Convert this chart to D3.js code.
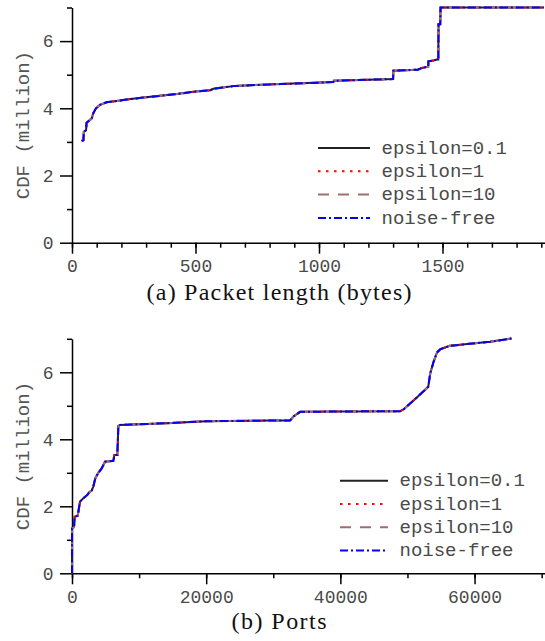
<!DOCTYPE html>
<html>
<head>
<meta charset="utf-8">
<script src="https://cdn.jsdelivr.net/npm/d3@7"></script>
<style>
  body { margin: 0; background: #fff; }
  svg { display: block; }
  .tick text { font-family: "Liberation Mono", monospace; fill: #4a4a4a; }
</style>
</head>
<body>
<svg id="chart" width="545" height="641"></svg>
<script>
// packet length CDF (bytes -> million packets)
const lenBytes = [39, 46, 48, 57, 59, 70, 80, 86, 97, 113, 140, 181, 221, 289, 356, 430, 500, 560, 572, 610, 653, 700, 842, 950, 1058, 1060, 1300, 1301, 1400, 1416, 1436, 1442, 1443, 1463, 1476, 1483, 1484, 1491, 1492, 1910]
const lenCdf   = [3.03, 3.05, 3.30, 3.35, 3.57, 3.64, 3.70, 3.85, 4.00, 4.10, 4.18, 4.22, 4.26, 4.32, 4.37, 4.43, 4.50, 4.54, 4.58, 4.62, 4.66, 4.68, 4.72, 4.75, 4.78, 4.82, 4.87, 5.12, 5.15, 5.20, 5.23, 5.23, 5.40, 5.42, 5.45, 5.45, 6.50, 6.50, 7.00, 7.00]

// port CDF (port number -> million packets)
const portNum = [0, 0, 298, 398, 845, 994, 1193, 1690, 2286, 2584, 2932, 3180, 3478, 3926, 4423, 4920, 6162, 6311, 6758, 6907, 7200, 14100, 20000, 29500, 32500, 33000, 34000, 39460, 48900, 49400, 50400, 51400, 52600, 53100, 53400, 53900, 54400, 54900, 56300, 59300, 62300, 65500]
const portCdf = [0, 1.34, 1.38, 1.69, 1.72, 1.89, 2.14, 2.24, 2.34, 2.42, 2.47, 2.59, 2.84, 3.00, 3.13, 3.33, 3.36, 3.53, 3.53, 4.40, 4.43, 4.48, 4.54, 4.56, 4.56, 4.68, 4.82, 4.83, 4.84, 4.89, 5.07, 5.25, 5.47, 5.57, 5.97, 6.32, 6.59, 6.69, 6.79, 6.85, 6.91, 7.01]

const seriesNames = ['epsilon=0.1', 'epsilon=1', 'epsilon=10', 'noise-free']
const seriesColors = ['#222222', '#ff0000', '#a06e6e', '#0000ff']
const seriesDash = [null, '2.5,5.5', '11,9', '8,3,2,3']

const lenMajor = [0, 500, 1000, 1500]
const portMajor = [0, 20000, 40000, 60000]
const yMajor = [0, 2, 4, 6]
const yMinor = [1, 3, 5, 7]

const captions = ['(a) Packet length (bytes)', '(b) Ports']

let svg = d3.select('#chart')

function drawPanel(opt) {
  let x = d3.scaleLinear().domain(opt.xDomain).range([72, 545])
  let y = d3.scaleLinear().domain([0, 7]).range(opt.yRange)
  let g = svg.append('g')

  // x axis: minor + major ticks
  g.append('g')
    .attr('transform', `translate(0,${y(0)})`)
    .call(d3.axisBottom(x).tickValues(opt.xMinor).tickSize(5).tickFormat(''))
    .call(a => a.select('.domain').remove())
    .call(a => a.selectAll('line').attr('stroke', '#000').attr('stroke-width', 1.5))
  g.append('g')
    .attr('transform', `translate(0,${y(0)})`)
    .call(d3.axisBottom(x).tickValues(opt.xMajor).tickSize(11).tickSizeOuter(0).tickPadding(5.5).tickFormat(d3.format('d')))
    .call(a => a.select('.domain').attr('stroke', '#000').attr('stroke-width', 1.5))
    .call(a => a.selectAll('line').attr('stroke', '#000').attr('stroke-width', 1.5))
    .call(a => a.selectAll('text').attr('font-size', 18))

  // y axis
  g.append('g')
    .attr('transform', 'translate(72,0)')
    .call(d3.axisLeft(y).tickValues(yMinor).tickSize(5).tickFormat(''))
    .call(a => a.select('.domain').remove())
    .call(a => a.selectAll('line').attr('stroke', '#000').attr('stroke-width', 1.5))
  g.append('g')
    .attr('transform', 'translate(72,0)')
    .call(d3.axisLeft(y).tickValues(yMajor).tickSize(12).tickSizeOuter(0).tickPadding(6.5).tickFormat(d3.format('d')))
    .call(a => a.select('.domain').attr('stroke', '#000').attr('stroke-width', 1.5))
    .call(a => a.selectAll('line').attr('stroke', '#000').attr('stroke-width', 1.5))
    .call(a => a.selectAll('text').attr('font-size', 18))

  g.append('text')
    .attr('transform', `translate(28.5,${(y(0) + y(7)) / 2}) rotate(-90)`)
    .attr('text-anchor', 'middle')
    .attr('font-family', '"Liberation Mono", monospace')
    .attr('font-size', 19)
    .attr('fill', '#555')
    .text('CDF (million)')

  // curves, blue (noise-free) on top
  let line = d3.line().x((d, i) => x(opt.xs[i])).y(d => y(d))
  seriesNames.forEach((s, i) => {
    g.append('path')
      .datum(opt.ys)
      .attr('d', line)
      .attr('fill', 'none')
      .attr('stroke', seriesColors[i])
      .attr('stroke-width', 2)
      .attr('stroke-dasharray', seriesDash[i])
      .attr('stroke-linejoin', 'miter')
  })

  // legend
  let leg = g.append('g')
  seriesNames.forEach((s, i) => {
    let ly = opt.legY + i * 23.3
    leg.append('line')
      .attr('x1', opt.legX).attr('x2', opt.legX + opt.legLen)
      .attr('y1', ly).attr('y2', ly)
      .attr('stroke', seriesColors[i])
      .attr('stroke-width', 2)
      .attr('stroke-dasharray', seriesDash[i])
    leg.append('text')
      .attr('x', opt.legX + opt.legLen + 11.5)
      .attr('y', ly)
      .attr('dy', '0.3em')
      .attr('font-family', '"Liberation Mono", monospace')
      .attr('font-size', 19)
      .attr('fill', '#4a4a4a')
      .text(s)
  })

  g.append('text')
    .attr('x', 279)
    .attr('y', opt.capY)
    .attr('text-anchor', 'middle')
    .attr('font-family', '"Liberation Serif", serif')
    .attr('font-size', 24)
    .attr('fill', '#111')
    .attr('textLength', opt.capW)
    .attr('lengthAdjust', 'spacing')
    .text(opt.caption)
}

drawPanel({
  xDomain: [0, 1915], yRange: [242.7, 7.5],
  xMajor: lenMajor, xMinor: d3.range(0, 1901, 100),
  xs: lenBytes, ys: lenCdf,
  legX: 318, legLen: 52, legY: 148,
  caption: captions[0], capY: 300, capW: 265
})

drawPanel({
  xDomain: [0, 70500], yRange: [573.3, 338.8],
  xMajor: portMajor, xMinor: d3.range(0, 70001, 10000),
  xs: portNum, ys: portCdf,
  legX: 340, legLen: 48, legY: 480.7,
  caption: captions[1], capY: 629, capW: 95
})
</script>
</body>
</html>
